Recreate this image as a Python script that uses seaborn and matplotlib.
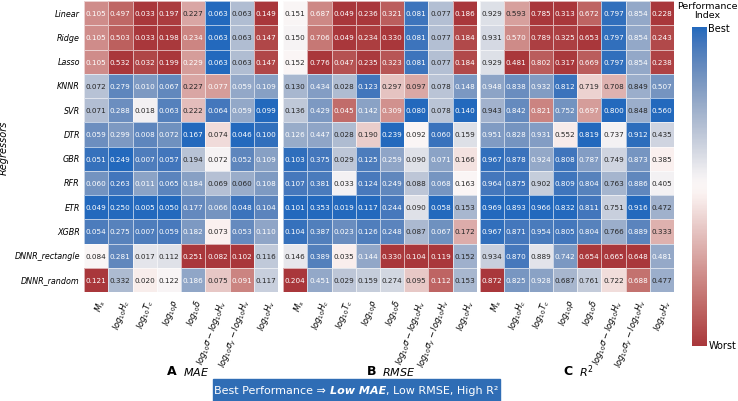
import numpy as np
import pandas as pd
import matplotlib
matplotlib.use("Agg")
import matplotlib.pyplot as plt
from matplotlib.patches import Rectangle
import seaborn as sns

regressors = ["Linear", "Ridge", "Lasso", "KNNR", "SVR", "DTR", "GBR", "RFR",
              "ETR", "XGBR", "DNNR_rectangle", "DNNR_random"]
targets = [r"$M_s$", r"$log_{10}H_c$", r"$log_{10}T_c$", r"$log_{10}\rho$",
           r"$log_{10}\delta$", r"$log_{10}\sigma - log_{10}H_v$",
           r"$log_{10}\sigma_y - log_{10}H_v$", r"$log_{10}H_v$"]

mae = [
    [0.105, 0.497, 0.033, 0.197, 0.227, 0.063, 0.063, 0.149],
    [0.105, 0.503, 0.033, 0.198, 0.234, 0.063, 0.063, 0.147],
    [0.105, 0.532, 0.032, 0.199, 0.229, 0.063, 0.063, 0.147],
    [0.072, 0.279, 0.010, 0.067, 0.227, 0.077, 0.059, 0.109],
    [0.071, 0.288, 0.018, 0.063, 0.222, 0.064, 0.059, 0.099],
    [0.059, 0.299, 0.008, 0.072, 0.167, 0.074, 0.046, 0.100],
    [0.051, 0.249, 0.007, 0.057, 0.194, 0.072, 0.052, 0.109],
    [0.060, 0.263, 0.011, 0.065, 0.184, 0.069, 0.060, 0.108],
    [0.049, 0.250, 0.005, 0.050, 0.177, 0.066, 0.048, 0.104],
    [0.054, 0.275, 0.007, 0.059, 0.182, 0.073, 0.053, 0.110],
    [0.084, 0.281, 0.017, 0.112, 0.251, 0.082, 0.102, 0.116],
    [0.121, 0.332, 0.020, 0.122, 0.186, 0.075, 0.091, 0.117],
]
rmse = [
    [0.151, 0.687, 0.049, 0.236, 0.321, 0.081, 0.077, 0.186],
    [0.150, 0.706, 0.049, 0.234, 0.330, 0.081, 0.077, 0.184],
    [0.152, 0.776, 0.047, 0.235, 0.323, 0.081, 0.077, 0.184],
    [0.130, 0.434, 0.028, 0.123, 0.297, 0.097, 0.078, 0.148],
    [0.136, 0.429, 0.045, 0.142, 0.309, 0.080, 0.078, 0.140],
    [0.126, 0.447, 0.028, 0.190, 0.239, 0.092, 0.060, 0.159],
    [0.103, 0.375, 0.029, 0.125, 0.259, 0.090, 0.071, 0.166],
    [0.107, 0.381, 0.033, 0.124, 0.249, 0.088, 0.068, 0.163],
    [0.101, 0.353, 0.019, 0.117, 0.244, 0.090, 0.058, 0.153],
    [0.104, 0.387, 0.023, 0.126, 0.248, 0.087, 0.067, 0.172],
    [0.146, 0.389, 0.035, 0.144, 0.330, 0.104, 0.119, 0.152],
    [0.204, 0.451, 0.029, 0.159, 0.274, 0.095, 0.112, 0.153],
]
r2 = [
    [0.929, 0.593, 0.785, 0.313, 0.672, 0.797, 0.854, 0.228],
    [0.931, 0.570, 0.789, 0.325, 0.653, 0.797, 0.854, 0.243],
    [0.929, 0.481, 0.802, 0.317, 0.669, 0.797, 0.854, 0.238],
    [0.948, 0.838, 0.932, 0.812, 0.719, 0.708, 0.849, 0.507],
    [0.943, 0.842, 0.821, 0.752, 0.697, 0.800, 0.848, 0.560],
    [0.951, 0.828, 0.931, 0.552, 0.819, 0.737, 0.912, 0.435],
    [0.967, 0.878, 0.924, 0.808, 0.787, 0.749, 0.873, 0.385],
    [0.964, 0.875, 0.902, 0.809, 0.804, 0.763, 0.886, 0.405],
    [0.969, 0.893, 0.966, 0.832, 0.811, 0.751, 0.916, 0.472],
    [0.967, 0.871, 0.954, 0.805, 0.804, 0.766, 0.889, 0.333],
    [0.934, 0.870, 0.889, 0.742, 0.654, 0.665, 0.648, 0.481],
    [0.872, 0.825, 0.928, 0.687, 0.761, 0.722, 0.688, 0.477],
]

panels = [("A", r"$MAE$", mae, False),
          ("B", r"$RMSE$", rmse, False),
          ("C", r"$R^2$", r2, True)]

W, H = 738, 402
fig = plt.figure(figsize=(W / 100, H / 100), dpi=100)
cmap = sns.color_palette("vlag_r", as_cmap=True)

lefts = [84, 283, 480]
ax_w = 194
top_px, bot_px = 2, 293

for i, (letter, name, vals, higher_better) in enumerate(panels):
    df = pd.DataFrame(vals, index=regressors, columns=targets)
    mn = df.min(axis=0)
    mx = df.max(axis=0)
    norm = (df - mn) / (mx - mn)
    perf = norm if higher_better else 1 - norm
    ax = fig.add_axes([lefts[i] / W, 1 - bot_px / H, ax_w / W, (bot_px - top_px) / H])
    sns.heatmap(perf, ax=ax, cmap=cmap, vmin=0, vmax=1, cbar=False,
                annot=df.values, fmt=".3f", annot_kws={"fontsize": 5.2},
                linewidths=0.5, linecolor=(1, 1, 1, 0.6))
    ax.tick_params(length=0)
    ax.set_xticklabels(targets, rotation=70, ha="right", rotation_mode="anchor",
                       fontsize=6)
    if i == 0:
        ax.set_yticklabels(regressors, rotation=0, fontsize=5.8, style="italic")
        ax.tick_params(axis="y", pad=3)
        ax.set_ylabel("Regressors", fontsize=7, style="italic", labelpad=4)
    else:
        ax.set_yticklabels([])
        ax.set_ylabel("")
    ax.set_xlabel("")
    cx = (lefts[i] + ax_w / 2) / W
    fig.text(cx - 4 / W, 1 - 372 / H, letter, fontsize=9, fontweight="bold",
             ha="right", va="center")
    fig.text(cx + 2 / W, 1 - 372 / H, name, fontsize=8, ha="left", va="center")

# colorbar
cax = fig.add_axes([692 / W, 1 - 347 / H, 15 / W, 319 / H])
sm = plt.cm.ScalarMappable(cmap=cmap, norm=plt.Normalize(0, 1))
cb = fig.colorbar(sm, cax=cax)
cb.set_ticks([])
cb.outline.set_visible(False)
fig.text(708 / W, 1 - 29 / H, "Best", fontsize=7, ha="left", va="center")
fig.text(709 / W, 1 - 346 / H, "Worst", fontsize=7, ha="left", va="center")
fig.text(707 / W, 1 - 2 / H, "Performance\nIndex", fontsize=6.8, ha="center",
         va="top", linespacing=1.0)

# bottom box
box_l, box_r = 213, 500
fig.patches.append(Rectangle((box_l / W, 0), (box_r - box_l) / W, 22 / H,
                             transform=fig.transFigure, color="#2f6db5",
                             zorder=0))
pieces = [("Best Performance \u21d2 ", {}),
          ("Low MAE", {"fontweight": "bold", "style": "italic"}),
          (", Low RMSE, High R\u00b2", {})]
renderer = fig.canvas.get_renderer()
texts = []
x = 0.0
ty = 1 - 391 / H
for s, kw in pieces:
    t = fig.text(x, ty, s, fontsize=8, color="white", ha="left", va="center", **kw)
    texts.append(t)
widths = [t.get_window_extent(renderer).width for t in texts]
total = sum(widths)
start = (box_l + box_r) / 2 - total / 2
for t, w in zip(texts, widths):
    t.set_x(start / W)
    start += w

fig.savefig("out.png", dpi=100)
